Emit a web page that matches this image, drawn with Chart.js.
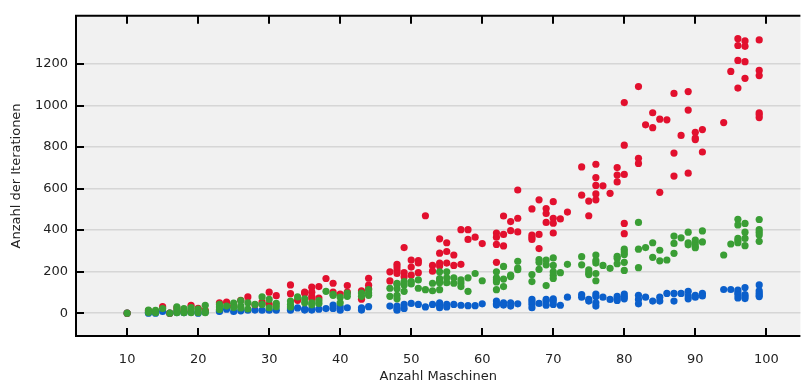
<!DOCTYPE html>
<html lang="de">
<head>
  <meta charset="UTF-8" />
  <title>Iterationen je Maschinenanzahl</title>
  <script src="https://cdn.jsdelivr.net/npm/chart.js@4.4.1/dist/chart.umd.min.js"></script>
  <style>
    html,body{margin:0;padding:0;background:#fff;}
    #wrap{width:804px;height:385px;position:relative;}
  </style>
</head>
<body>
  <div id="wrap"><canvas id="chart" width="804" height="385"></canvas></div>

  <script>
    /* ---------- data: [Anzahl Maschinen, Anzahl Iterationen] ---------- */
    const iterRot = [
      [10,0],[13,12],[14,8],[15,31],[16,0],[17,25],[18,12],[19,38],[20,23],[21,14],
      [23,50],[24,53],[25,35],[26,62],[27,78],[28,40],[29,53],[30,101],[30,42],[31,84],
      [33,136],[33,94],[34,62],[35,101],[35,96],[36,125],[36,101],[36,81],[36,69],
      [37,128],[37,73],[38,167],[39,144],[39,101],[40,92],[41,133],[41,101],[43,108],[43,67],
      [44,168],[44,135],[44,117],[47,199],[47,155],[48,235],[48,222],[48,206],[48,191],
      [49,316],[49,195],[49,175],[50,256],[50,222],[50,183],[51,253],[51,242],[51,195],
      [52,469],[53,230],[53,202],[54,358],[54,289],[54,241],[54,227],[55,339],[55,297],[55,241],
      [56,280],[56,230],[57,402],[57,235],[58,402],[58,355],[59,366],[60,335],
      [62,386],[62,366],[62,331],[62,245],[63,468],[63,379],[63,324],[64,441],[64,397],
      [65,593],[65,457],[65,391],[67,502],[67,376],[67,366],[67,355],[68,546],[68,379],[68,311],
      [69,504],[69,480],[69,437],[70,537],[70,457],[70,433],[70,386],[71,454],[72,487],
      [74,704],[74,568],[75,540],[75,469],[76,717],[76,653],[76,615],[76,574],[76,546],
      [77,613],[78,577],[79,701],[79,665],[79,632],[80,1014],[80,809],[80,668],[80,432],[80,383],
      [82,1091],[82,746],[82,721],[83,907],[84,965],[84,893],[85,934],[85,582],[86,931],
      [87,1058],[87,771],[87,660],[88,856],[89,1067],[89,978],[89,674],[90,871],[90,843],[90,836],
      [91,884],[91,776],[94,918],[95,1164],[96,1322],[96,1289],[96,1217],[96,1084],
      [97,1311],[97,1285],[97,1211],[97,1131],[99,1316],[99,1169],[99,1144],[99,965],[99,955],[99,942]
    ];
    const iterGruen = [
      [10,0],[13,15],[13,3],[14,14],[14,2],[15,22],[16,0],[17,30],[17,14],[17,2],
      [18,22],[18,8],[18,2],[19,27],[19,15],[19,2],[20,20],[20,2],[21,38],[21,10],[21,2],
      [23,42],[23,30],[23,18],[24,34],[25,48],[25,27],[26,61],[26,35],[26,25],[27,50],[27,20],
      [28,42],[29,78],[29,42],[30,66],[30,26],[31,47],[31,31],[33,58],[33,42],[33,30],
      [34,78],[35,69],[35,50],[36,50],[36,40],[37,61],[37,47],[38,105],[39,90],[39,86],
      [40,77],[40,50],[41,97],[41,81],[43,97],[43,81],[44,113],[44,97],[44,86],
      [47,120],[47,81],[48,144],[48,139],[48,117],[48,86],[48,69],[49,152],[49,136],[49,105],
      [50,152],[50,141],[51,160],[51,120],[52,113],[53,144],[53,108],
      [54,199],[54,167],[54,155],[54,146],[54,113],[55,199],[55,170],[55,147],[56,170],[56,144],
      [57,160],[57,145],[57,128],[58,170],[58,105],[59,191],[60,156],
      [62,199],[62,170],[62,160],[62,150],[62,113],[63,225],[63,164],[63,128],[64,183],[64,176],
      [65,250],[65,217],[65,209],[67,186],[67,152],[68,258],[68,245],[68,211],[69,256],[69,233],[69,133],
      [70,266],[70,230],[70,199],[70,183],[70,167],[71,195],[72,235],[74,272],[74,233],
      [75,209],[75,195],[75,186],[76,280],[76,253],[76,241],[76,191],[76,156],[77,230],[78,216],
      [79,274],[79,265],[79,238],[80,308],[80,295],[80,282],[80,245],[80,206],
      [82,437],[82,308],[82,219],[83,316],[84,339],[84,269],[85,303],[85,252],[86,256],
      [87,371],[87,336],[87,288],[88,363],[89,390],[89,339],[89,329],[90,352],[90,340],[90,324],[90,315],
      [91,396],[91,343],[94,280],[95,333],[96,452],[96,425],[96,360],[96,350],[96,339],
      [97,432],[97,390],[97,360],[97,325],[99,451],[99,402],[99,390],[99,376],[99,346]
    ];
    const iterBlau = [
      [10,0],[13,0],[13,5],[14,0],[15,8],[16,0],[17,3],[18,2],[19,5],[20,0],[21,5],
      [23,8],[23,12],[24,19],[25,8],[26,11],[27,14],[28,15],[29,14],[30,14],[31,14],
      [33,14],[33,20],[34,25],[35,19],[35,15],[36,19],[36,15],[37,19],[38,22],[39,39],[39,23],
      [40,30],[40,14],[41,26],[43,26],[43,15],[44,31],[47,34],[48,34],[48,23],[48,14],
      [49,42],[49,23],[50,47],[51,42],[52,30],[53,42],[54,50],[54,38],[54,26],[55,42],[55,30],
      [56,42],[57,38],[58,36],[59,36],[60,45],[62,58],[62,45],[62,39],[63,50],[63,39],
      [64,50],[64,34],[65,45],[67,66],[67,55],[67,42],[67,26],[68,47],[69,66],[69,58],[69,38],
      [70,69],[70,58],[70,42],[71,38],[72,77],[74,89],[74,77],[75,66],[75,58],
      [76,92],[76,80],[76,50],[76,34],[77,77],[78,66],[79,81],[79,70],[79,61],
      [80,92],[80,80],[80,69],[82,86],[82,66],[82,45],[83,77],[84,58],[85,77],[85,58],
      [86,95],[87,95],[87,58],[88,95],[89,105],[89,83],[89,69],[90,86],[90,77],[91,95],[91,83],
      [94,114],[95,114],[96,111],[96,100],[96,89],[96,73],[97,123],[97,89],[97,80],[97,70],
      [99,136],[99,108],[99,97],[99,88],[99,80]
    ];
    const xTicks = [10,20,30,40,50,60,70,80,90,100];
    const yTicks = [0,200,400,600,800,1000,1200];

    const toPts = arr => arr.map(([x,y]) => ({x, y}));
    const FONT = "'DejaVu Sans', sans-serif";

    /* plot background + black frame with inward tick marks */
    const frame = {
      id: "frame",
      beforeDraw(c){
        const {ctx, chartArea:a} = c;
        ctx.save();
        ctx.fillStyle = "#f1f1f1";
        ctx.fillRect(a.left, a.top, a.right - a.left, a.bottom - a.top);
        ctx.restore();
      },
      afterDraw(c){
        const {ctx, chartArea:a, scales:{x, y}} = c;
        ctx.save();
        ctx.strokeStyle = "#000";
        ctx.lineWidth = 2;
        ctx.beginPath();
        ctx.moveTo(a.right, a.top); ctx.lineTo(a.left, a.top);
        ctx.lineTo(a.left, a.bottom); ctx.lineTo(a.right, a.bottom);
        xTicks.forEach(v => {
          const px = Math.round(x.getPixelForValue(v));
          ctx.moveTo(px, a.top); ctx.lineTo(px, a.top + 8);
          ctx.moveTo(px, a.bottom); ctx.lineTo(px, a.bottom - 8);
        });
        yTicks.forEach(v => {
          const py = Math.round(y.getPixelForValue(v));
          ctx.moveTo(a.left, py); ctx.lineTo(a.left + 8, py);
        });
        ctx.stroke();
        ctx.restore();
      }
    };

    const ds = (label, data, color) => ({
      label, data: toPts(data),
      backgroundColor: color, borderColor: color,
      pointRadius: 3.6, pointBorderWidth: 0, pointHoverRadius: 3.6
    });

    new Chart(document.getElementById("chart"), {
      type: "scatter",
      data: {
        datasets: [
          ds("gruen", iterGruen, "#3a9e35"),
          ds("rot", iterRot, "#e2102e"),
          ds("blau", iterBlau, "#0b5fcb")
        ]
      },
      options: {
        responsive: false,
        animation: false,
        layout: {padding: {top: 7, left: 0, right: 0, bottom: 0}},
        plugins: {legend: {display: false}, tooltip: {enabled: false}},
        scales: {
          x: {
            type: "linear", min: 2.8, max: 104.8,
            afterBuildTicks: s => { s.ticks = xTicks.map(v => ({value: v})); },
            afterFit: s => { s.height = 49; },
            grid: {display: false},
            border: {display: false},
            ticks: {color: "#222", font: {family: FONT, size: 13}, padding: 8, maxRotation: 0,
                    callback: v => String(v)},
            title: {display: true, text: "Anzahl Maschinen", color: "#222",
                    font: {family: FONT, size: 13, lineHeight: "16px"}, padding: 0}
          },
          y: {
            type: "linear", min: -110, max: 1432,
            afterBuildTicks: s => { s.ticks = yTicks.map(v => ({value: v})); },
            afterFit: s => { s.width = 76; },
            grid: {color: "#d6d6d6", lineWidth: 1.5, drawTicks: false},
            border: {display: false},
            ticks: {color: "#222", font: {family: FONT, size: 13}, padding: 8,
                    callback: v => String(v)},
            title: {display: true, text: "Anzahl der Iterationen", color: "#222",
                    font: {family: FONT, size: 13, lineHeight: "16px"}, padding: {top: 9, bottom: 0}}
          }
        }
      },
      plugins: [frame]
    });
  </script>
</body>
</html>
